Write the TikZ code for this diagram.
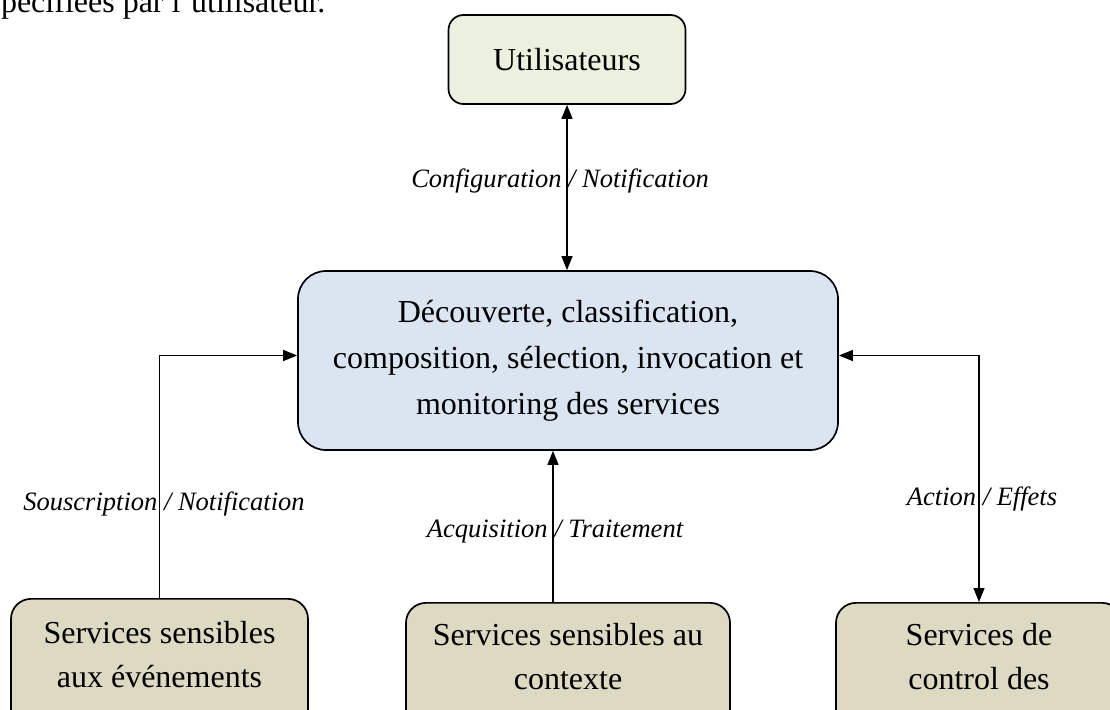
\documentclass[tikz,border=0pt]{standalone}
\usepackage{fontspec}
\setmainfont{Liberation Serif}
\usetikzlibrary{arrows.meta}
\definecolor{usergreen}{HTML}{EBF1DE}
\definecolor{coreblue}{HTML}{DBE5F1}
\definecolor{servtan}{HTML}{DDD9C3}

\begin{document}
\begin{tikzpicture}[x=1pt,y=-1pt,line width=1.3pt,>={Triangle[length=14pt,width=11pt]},
  box/.style={draw,line width=1.7pt,rounded corners=20pt,align=center,inner sep=0pt,
    font=\fontsize{32}{44}\selectfont},
  service/.style={box,fill=servtan,anchor=north,text height=66pt,text depth=18pt},
  lbl/.style={font=\fontsize{26.5}{30}\selectfont\itshape,inner sep=0pt,anchor=base}]
  \useasboundingbox (0,0) rectangle (1110,709);
  \clip (0,0) rectangle (1110,709);
  \node[font=\fontsize{32}{38}\selectfont,inner sep=0pt,anchor=base east] (intro) at (326,13) {spécifiées par l'utilisateur.};
  \node[box,fill=usergreen,rounded corners=15pt,minimum width=237pt,minimum height=89pt] (users) at (567,59.5) {Utilisateurs};
  \node[box,fill=coreblue,rounded corners=28pt,minimum width=540pt,minimum height=179pt,
    font=\fontsize{32}{46}\selectfont] (core) at (568,360.5)
    {Découverte, classification,\\composition, sélection, invocation et\\monitoring des services};
  % services du bas
  \node[service,minimum width=297pt,minimum height=130pt] (evt) at (159.5,598) {Services sensibles\\aux événements};
  \node[service,minimum width=324pt,minimum height=126pt] (ctx) at (568,602) {Services sensibles au\\contexte};
  \node[service,minimum width=286pt,minimum height=126pt] (ctl) at (979,602) {Services de\\control des};
  % liens
  \draw[<->] (users.south) -- (users.south |- core.north);
  \draw[->] (evt.north) |- ([yshift=5pt]core.west);
  \draw[->] ([xshift=-15pt]ctx.north) -- ([xshift=-15pt]ctx.north |- core.south);
  \draw[<->] ([yshift=5pt]core.east) -| (ctl.north);
  \node[lbl] (cfg) at (560,187) {Configuration / Notification};
  \node[lbl] (sub) at (164,510) {Souscription / Notification};
  \node[lbl] (acq) at (555,537) {Acquisition / Traitement};
  \node[lbl] (act) at (982,505) {Action / Effets};
\end{tikzpicture}
\end{document}
